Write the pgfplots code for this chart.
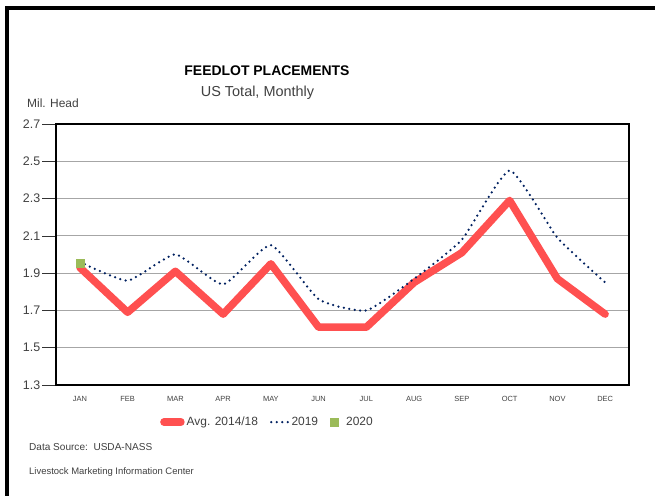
\documentclass[border=0pt]{standalone}
\usepackage{fontspec}
\setmainfont{Liberation Sans}
\usepackage{pgfplots}
\pgfplotsset{compat=1.18}
\definecolor{avgred}{HTML}{FF5050}
\definecolor{navy}{HTML}{002060}
\definecolor{green20}{HTML}{9BBB59}
\definecolor{gridgray}{HTML}{A6A6A6}
\definecolor{txtgray}{HTML}{404040}
\begin{document}
\begin{tikzpicture}[x=1bp,y=1bp]
\path[use as bounding box] (0,0) rectangle (655,496);
% frame
\draw[line width=4bp] (7,0) -- (7,488) -- (655,488);
\begin{axis}[
  at={(56bp,111bp)}, anchor=south west,
  scale only axis, width=573bp, height=261bp,
  xmin=-0.5, xmax=11.5, ymin=1.3, ymax=2.7,
  xtick={0,...,11},
  xticklabels={JAN,FEB,MAR,APR,MAY,JUN,JUL,AUG,SEP,OCT,NOV,DEC},
  xtick style={draw=none},
  minor xtick={-0.5,0.5,...,11.5},
  minor tick length=4bp,
  major tick length=14bp,
  ytick={1.3,1.5,...,2.75},
  tick align=outside, tick pos=left,
  ymajorgrids, grid style={gridgray, line width=0.9bp},
  axis line style={line width=1.3bp},
  every tick/.style={black!80, line width=0.6bp},
  yticklabel style={/pgf/number format/.cd, fixed, fixed zerofill, precision=1, /tikz/.cd, font=\fontsize{12.5}{13}\selectfont, text=txtgray, inner xsep=1.5bp},
  /pgf/number format/assume math mode=true,
  xticklabel style={font=\fontsize{7.5}{8}\selectfont, text=txtgray, yshift=6bp},
  legend style={at={(0.369,-0.142)}, anchor=center, draw=none, fill=none,
    legend columns=3, font=\fontsize{12}{13}\selectfont, text=txtgray,
    /tikz/every even column/.append style={column sep=10bp}},
  legend cell align=left,
  clip=false,
]
\addplot[avgred, line width=7.5bp, line join=round, line cap=round] coordinates {
 (0,1.93) (1,1.69) (2,1.91) (3,1.68) (4,1.95) (5,1.61) (6,1.61) (7,1.85) (8,2.01) (9,2.29) (10,1.87) (11,1.68)};
\addlegendentry{Avg. 2014/18}
\addplot[navy, line width=2.5bp, line cap=round, dash pattern=on 0pt off 5.5bp, smooth, tension=0.3] coordinates {
 (0,1.96) (1,1.86) (2,2.00) (3,1.84) (4,2.05) (5,1.76) (6,1.70) (7,1.87) (8,2.08) (9,2.45) (10,2.09) (11,1.85)};
\addlegendentry{2019}
\addplot[only marks, mark=square*, mark size=4bp, mark options={draw=green20, fill=green20}] coordinates {(0,1.955)};
\addlegendentry{\hspace{6bp}2020}
\end{axis}
\node[font=\bfseries\fontsize{14}{16}\selectfont, anchor=base] at (267,420) {FEEDLOT PLACEMENTS};
\node[font=\fontsize{14.5}{16}\selectfont, text=txtgray, anchor=base] at (257.5,399) {US Total, Monthly};
\node[font=\fontsize{12}{14}\selectfont, text=txtgray, anchor=base west, inner sep=0pt] at (27,388) {Mil. Head};
\node[font=\fontsize{10.1}{12}\selectfont, text=txtgray, anchor=base west, inner sep=0pt] at (29,45) {Data Source:\ \ USDA-NASS};
\node[font=\fontsize{9.5}{11}\selectfont, text=txtgray, anchor=base west, inner sep=0pt] at (29,21) {Livestock Marketing Information Center};
\end{tikzpicture}
\end{document}
